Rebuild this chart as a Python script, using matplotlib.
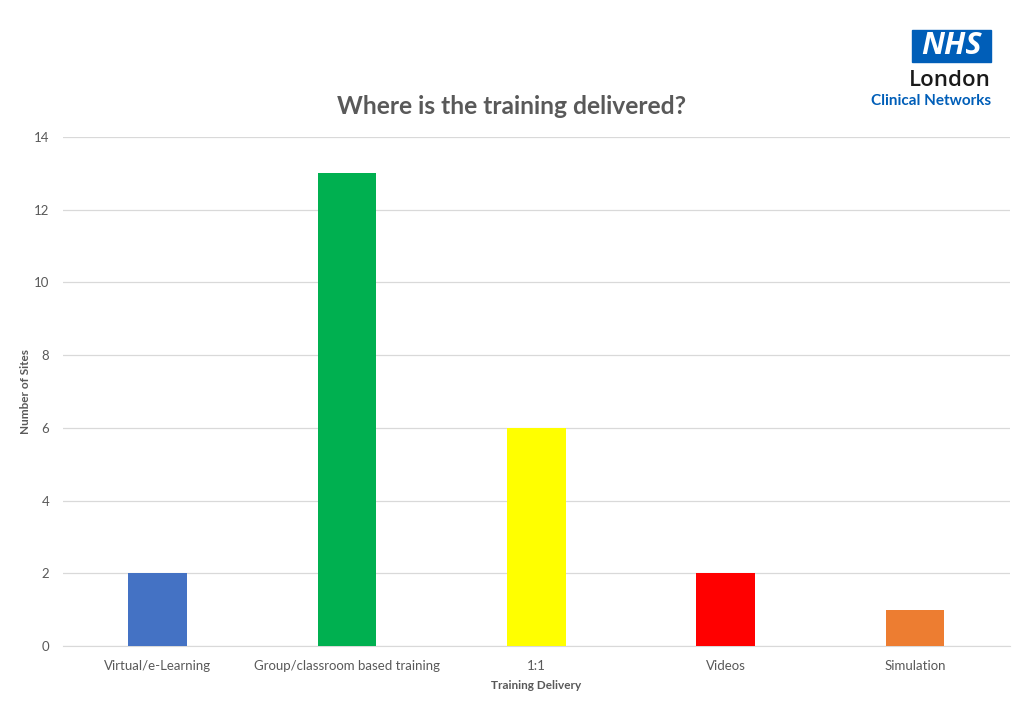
import matplotlib.pyplot as plt
from matplotlib.patches import Rectangle

categories = ['Virtual/e-Learning', 'Group/classroom based training', '1:1', 'Videos', 'Simulation']
sites = [2, 13, 6, 2, 1]
colors = ['#4472C4', '#00B050', '#FFFF00', '#FF0000', '#ED7D31']

plt.rcParams['font.family'] = ['Lato', 'DejaVu Sans']

fig = plt.figure(figsize=(10.24, 7.09), dpi=100)
ax = fig.add_axes([0.0615, 0.0889, 0.9245, 0.7179])

x = range(len(categories))
ax.bar(x, sites, width=0.31, color=colors, zorder=3)

ax.set_xlim(-0.5, len(categories) - 0.5)
ax.set_ylim(0, 14)
ax.set_yticks(range(0, 15, 2))
ax.set_xticks(list(x))
ax.set_xticklabels(categories)
ax.grid(axis='y', color='#D9D9D9', lw=0.9, zorder=0)
ax.tick_params(axis='both', length=0, colors='#595959', labelsize=9.5, pad=10)
ax.tick_params(axis='y', pad=10)
for s in ['top', 'right', 'left']:
    ax.spines[s].set_visible(False)
ax.spines['bottom'].set_color('#D9D9D9')

ax.set_xlabel('Training Delivery', fontsize=8.5, fontweight='bold', color='#595959', labelpad=6)
ax.set_ylabel('Number of Sites', fontsize=8.5, fontweight='bold', color='#595959', labelpad=2)

fig.text(0.5, 0.85, 'Where is the training delivered?', ha='center', va='center',
         fontsize=17.7, fontweight='bold', color='#595959')

# NHS logo
fig.patches.append(Rectangle((912 / 1024, 1 - 62 / 709), 79 / 1024, 32 / 709,
                             transform=fig.transFigure, color='#005EB8', figure=fig))
fig.text(951 / 1024, 1 - 46 / 709, 'NHS', ha='center', va='center', color='white',
         fontsize=22, fontweight='bold', style='italic', family=['Open Sans', 'DejaVu Sans'])
fig.text(991 / 1024, 1 - 80 / 709, 'London', ha='right', va='center', color='#1a1a1a',
         fontsize=16, fontweight='semibold', family=['Open Sans', 'DejaVu Sans'])
fig.text(991 / 1024, 1 - 101 / 709, 'Clinical Networks', ha='right', va='center',
         color='#005EB8', fontsize=11, fontweight='bold')

fig.savefig('out.png', dpi=100)
